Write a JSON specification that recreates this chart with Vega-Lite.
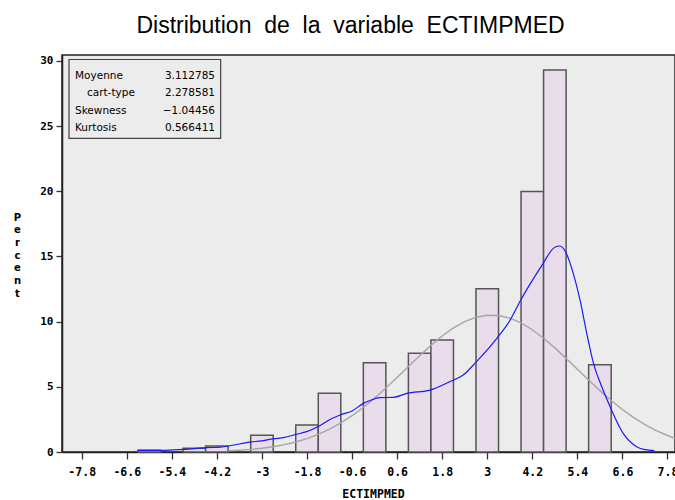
{
  "$schema": "https://vega.github.io/schema/vega-lite/v6.json",
  "autosize": {"type": "none"},
  "padding": {"left": 62, "top": 55, "right": 0, "bottom": 48},
  "width": 613,
  "height": 397,
  "background": "white",
  "title": {
    "text": "Distribution\u00a0 de\u00a0 la\u00a0 variable\u00a0 ECTIMPMED",
    "font": "Liberation Sans",
    "fontSize": 23,
    "fontWeight": "normal",
    "color": "black",
    "anchor": "middle",
    "frame": "group",
    "baseline": "alphabetic",
    "offset": 22,
    "dx": -18,
    "dy": 23
  },
  "config": {
    "view": {"fill": "#ececec", "stroke": "#222222", "strokeWidth": 1.5},
    "axis": {"grid": false}
  },
  "datasets": {
    "bars": [
      {"x": -6.3, "x2": -5.7, "pct": 0.13},
      {"x": -5.1, "x2": -4.5, "pct": 0.28},
      {"x": -4.5, "x2": -3.9, "pct": 0.46},
      {"x": -3.3, "x2": -2.7, "pct": 1.28},
      {"x": -2.1, "x2": -1.5, "pct": 2.07},
      {"x": -1.5, "x2": -0.9, "pct": 4.5},
      {"x": -0.3, "x2": 0.3, "pct": 6.85},
      {"x": 0.9, "x2": 1.5, "pct": 7.57},
      {"x": 1.5, "x2": 2.1, "pct": 8.59},
      {"x": 2.7, "x2": 3.3, "pct": 12.52},
      {"x": 3.9, "x2": 4.5, "pct": 19.99},
      {"x": 4.5, "x2": 5.1, "pct": 29.29},
      {"x": 5.7, "x2": 6.3, "pct": 6.7}
    ],
    "normal": [
      {"x": -3.9, "pct": 0.092}, {"x": -3.6, "pct": 0.137}, {"x": -3.3, "pct": 0.2},
      {"x": -3.0, "pct": 0.288}, {"x": -2.7, "pct": 0.406}, {"x": -2.4, "pct": 0.563},
      {"x": -2.1, "pct": 0.767}, {"x": -1.8, "pct": 1.028}, {"x": -1.5, "pct": 1.354},
      {"x": -1.2, "pct": 1.752}, {"x": -0.9, "pct": 2.228}, {"x": -0.6, "pct": 2.785},
      {"x": -0.3, "pct": 3.422}, {"x": 0.0, "pct": 4.132}, {"x": 0.3, "pct": 4.903},
      {"x": 0.6, "pct": 5.719}, {"x": 0.9, "pct": 6.556}, {"x": 1.2, "pct": 7.385},
      {"x": 1.5, "pct": 8.177}, {"x": 1.8, "pct": 8.899}, {"x": 2.1, "pct": 9.517},
      {"x": 2.4, "pct": 10.004}, {"x": 2.7, "pct": 10.334}, {"x": 3.0, "pct": 10.492},
      {"x": 3.3, "pct": 10.47}, {"x": 3.6, "pct": 10.268}, {"x": 3.9, "pct": 9.897},
      {"x": 4.2, "pct": 9.375}, {"x": 4.5, "pct": 8.728}, {"x": 4.8, "pct": 7.986},
      {"x": 5.1, "pct": 7.182}, {"x": 5.4, "pct": 6.347}, {"x": 5.7, "pct": 5.514},
      {"x": 6.0, "pct": 4.707}, {"x": 6.3, "pct": 3.95}, {"x": 6.6, "pct": 3.257},
      {"x": 6.9, "pct": 2.64}, {"x": 7.2, "pct": 2.103}, {"x": 7.5, "pct": 1.646},
      {"x": 7.8, "pct": 1.266}, {"x": 8.0, "pct": 1.053}
    ],
    "kernel": [
      {"x": -6.32, "pct": 0.12}, {"x": -5.69, "pct": 0.12}, {"x": -5.09, "pct": 0.2},
      {"x": -4.47, "pct": 0.33}, {"x": -4.1, "pct": 0.38}, {"x": -3.85, "pct": 0.48},
      {"x": -3.32, "pct": 0.76}, {"x": -3.01, "pct": 0.86}, {"x": -2.79, "pct": 0.97},
      {"x": -2.43, "pct": 1.1}, {"x": -2.08, "pct": 1.36}, {"x": -1.81, "pct": 1.56},
      {"x": -1.5, "pct": 1.96}, {"x": -1.15, "pct": 2.55}, {"x": -0.92, "pct": 2.84},
      {"x": -0.6, "pct": 3.15}, {"x": -0.3, "pct": 3.73}, {"x": -0.12, "pct": 3.95},
      {"x": 0.14, "pct": 4.17}, {"x": 0.5, "pct": 4.19}, {"x": 0.86, "pct": 4.5},
      {"x": 1.48, "pct": 4.75}, {"x": 2.0, "pct": 5.39}, {"x": 2.36, "pct": 5.9},
      {"x": 2.72, "pct": 6.95}, {"x": 3.25, "pct": 8.7}, {"x": 3.61, "pct": 10.12},
      {"x": 3.9, "pct": 11.7}, {"x": 4.49, "pct": 14.47}, {"x": 4.76, "pct": 15.62},
      {"x": 4.92, "pct": 15.8}, {"x": 5.07, "pct": 15.44}, {"x": 5.29, "pct": 13.7},
      {"x": 5.47, "pct": 11.66}, {"x": 5.65, "pct": 9.1}, {"x": 5.83, "pct": 6.8},
      {"x": 6.05, "pct": 5.0}, {"x": 6.31, "pct": 3.22}, {"x": 6.62, "pct": 1.43},
      {"x": 6.98, "pct": 0.41}, {"x": 7.2, "pct": 0.18}, {"x": 7.45, "pct": 0.1}
    ],
    "stats": [
      {"first": "Moyenne", "indented": "cart-type", "rest": "Skewness|Kurtosis", "values": "3.112785|2.278581|\u22121.04456|0.566411"}
    ]
  },
  "layer": [
    {
      "data": {"name": "bars"},
      "mark": {"type": "rect", "fill": "#e9ddec", "stroke": "#555555", "strokeWidth": 1.5},
      "encoding": {
        "x": {
          "field": "x", "type": "quantitative", "title": "ECTIMPMED",
          "scale": {"domain": [-8.325, 8.0], "nice": false, "zero": false},
          "axis": {
            "values": [-7.8, -6.6, -5.4, -4.2, -3, -1.8, -0.6, 0.6, 1.8, 3, 4.2, 5.4, 6.6, 7.8],
            "labelExpr": "'' + datum.value",
            "labelFont": "DejaVu Sans Mono", "labelFontWeight": "bold", "labelFontSize": 11.5,
            "labelColor": "black", "labelPadding": 7, "labelFlush": false, "labelOverlap": false,
            "labelBaseline": "top",
            "tickSize": 7, "tickColor": "#333333", "tickWidth": 1.3,
            "domainColor": "#222222", "domainWidth": 1.5,
            "titleFont": "DejaVu Sans Mono", "titleFontWeight": "bold", "titleFontSize": 11.5,
            "titleColor": "black", "titleX": 311, "titleY": 45, "titleAlign": "center",
            "titleBaseline": "alphabetic"
          }
        },
        "x2": {"field": "x2"},
        "y": {
          "field": "pct", "type": "quantitative",
          "title": ["P", "e", "r", "c", "e", "n", "t"],
          "scale": {"domain": [0, 30.45], "nice": false},
          "axis": {
            "values": [0, 5, 10, 15, 20, 25, 30],
            "labelFont": "DejaVu Sans Mono", "labelFontWeight": "bold", "labelFontSize": 11,
            "labelColor": "black", "labelPadding": 3,
            "tickSize": 6, "tickColor": "#333333", "tickWidth": 1.3,
            "domainColor": "#222222", "domainWidth": 1.5,
            "titleAngle": 0, "titleX": -45, "titleY": 162, "titleAlign": "center",
            "titleBaseline": "middle", "titleLineHeight": 12.7,
            "titleFont": "DejaVu Sans", "titleFontWeight": "bold", "titleFontSize": 10,
            "titleColor": "black"
          }
        },
        "y2": {"datum": 0}
      }
    },
    {
      "data": {"name": "normal"},
      "mark": {"type": "line", "color": "#a6a6a6", "strokeWidth": 1.4},
      "encoding": {
        "x": {"field": "x", "type": "quantitative", "title": "ECTIMPMED"},
        "y": {"field": "pct", "type": "quantitative", "title": ["P", "e", "r", "c", "e", "n", "t"]}
      }
    },
    {
      "data": {"name": "kernel"},
      "mark": {"type": "line", "color": "#1a1aff", "strokeWidth": 1.2, "interpolate": "monotone"},
      "encoding": {
        "x": {"field": "x", "type": "quantitative", "title": "ECTIMPMED"},
        "y": {"field": "pct", "type": "quantitative", "title": ["P", "e", "r", "c", "e", "n", "t"]}
      }
    },
    {
      "data": {"name": "stats"},
      "mark": {"type": "rect", "fill": "#ececec", "stroke": "#444444", "strokeWidth": 1.2},
      "encoding": {
        "x": {"datum": -8.139},
        "x2": {"datum": -4.1},
        "y": {"datum": 30.105},
        "y2": {"datum": 24.05}
      }
    },
    {
      "data": {"name": "stats"},
      "mark": {"type": "text", "align": "left", "baseline": "middle", "font": "DejaVu Sans", "fontSize": 10.5, "color": "black"},
      "encoding": {
        "x": {"datum": -7.979},
        "y": {"datum": 28.863},
        "text": {"field": "first"}
      }
    },
    {
      "data": {"name": "stats"},
      "mark": {"type": "text", "align": "left", "baseline": "middle", "font": "DejaVu Sans", "fontSize": 10.5, "color": "black"},
      "encoding": {
        "x": {"datum": -7.66},
        "y": {"datum": 27.513},
        "text": {"field": "indented"}
      }
    },
    {
      "data": {"name": "stats"},
      "mark": {"type": "text", "align": "left", "baseline": "middle", "lineBreak": "|", "lineHeight": 17.6, "font": "DejaVu Sans", "fontSize": 10.5, "color": "black"},
      "encoding": {
        "x": {"datum": -7.979},
        "y": {"datum": 26.163},
        "text": {"field": "rest"}
      }
    },
    {
      "data": {"name": "stats"},
      "mark": {"type": "text", "align": "right", "baseline": "middle", "lineBreak": "|", "lineHeight": 17.6, "font": "DejaVu Sans", "fontSize": 10.5, "color": "black"},
      "encoding": {
        "x": {"datum": -4.25},
        "y": {"datum": 28.863},
        "text": {"field": "values"}
      }
    }
  ]
}
